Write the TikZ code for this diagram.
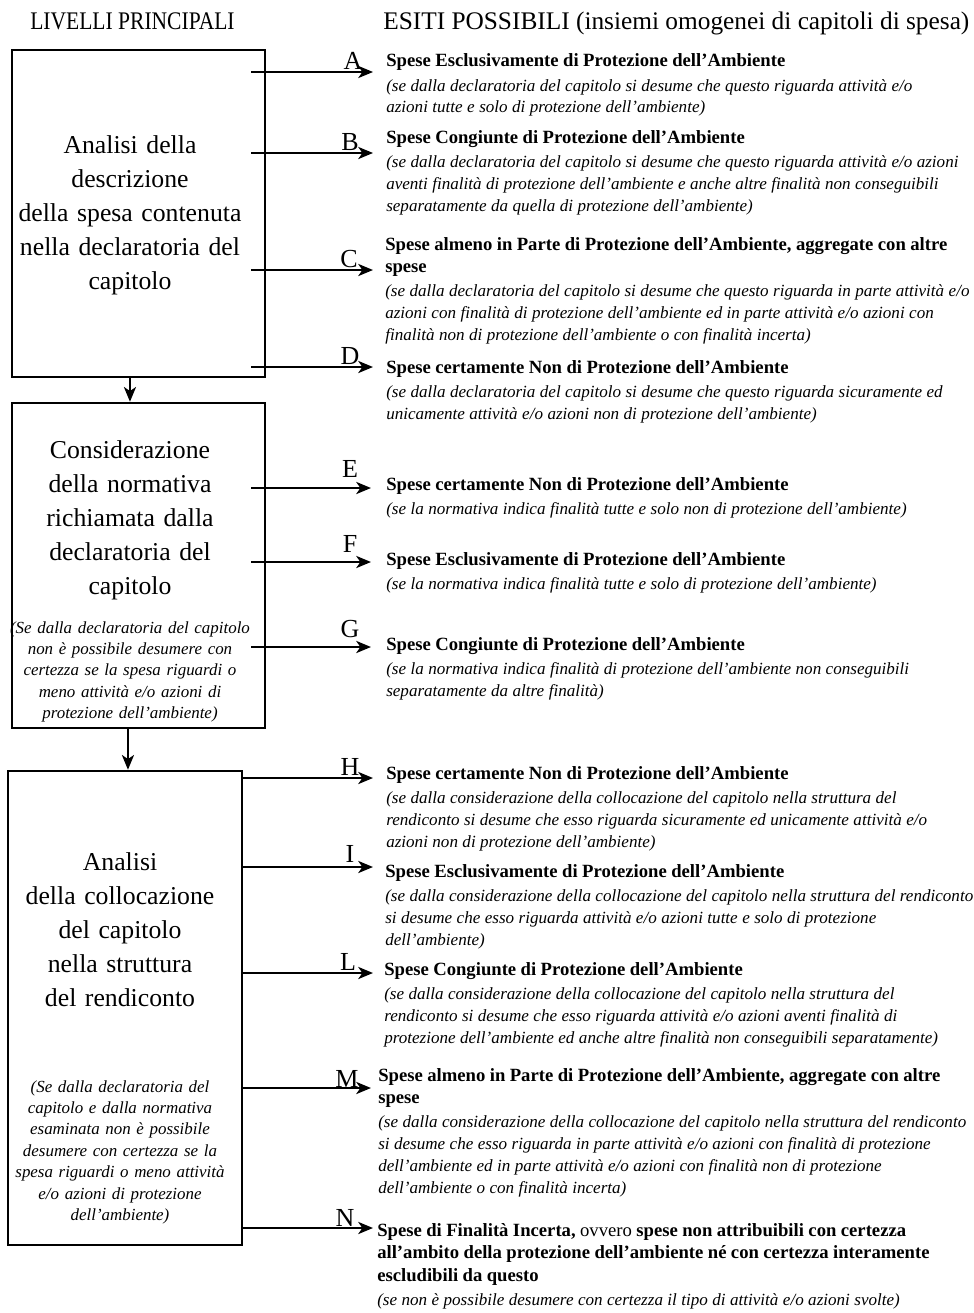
\documentclass[tikz,border=0pt]{standalone}
\usepackage{fontspec}
\setmainfont{Liberation Serif}
\usepackage{graphicx}
\usetikzlibrary{arrows.meta}

% fonts of the outcome blocks
\newcommand\hdfont{\bfseries\fontsize{14}{17}\selectfont}
\newcommand\dsfont{\mdseries\itshape\fontsize{12.8}{16.5}\selectfont}
\newcommand\dsgap{\par\vspace{1.5pt}\dsfont}

\tikzset{
  frame/.style={draw, line width=1.9pt, inner sep=0pt},
  bigtxt/.style={text width=210pt, align=center, inner sep=0pt,
    font=\fontsize{19.3}{25.5}\selectfont, anchor=base},
  boxnote/.style={text width=210pt, align=center, inner sep=0pt,
    font=\itshape\fontsize{12.7}{16.1}\selectfont, anchor=base},
  outc/.style={text width=500pt, align=left, inner sep=0pt, anchor=base west},
  lett/.style={font=\fontsize{19.5}{20}\selectfont, inner sep=0pt, anchor=south},
  arr/.style={line width=1.9pt, -{Stealth[length=11pt,width=9pt,inset=3pt]}},
  title/.style={font=\fontsize{19}{22}\selectfont, inner sep=0pt, anchor=base west},
}

\begin{document}
\begin{tikzpicture}[x=0.75pt,y=-0.75pt]
\useasboundingbox (0,0) rectangle (974,1313);

% column headings
\node[title] (hL) at (30,30) {\scalebox{0.85}[1]{LIVELLI PRINCIPALI}};
\node[title] (hR) at (383,30) {ESITI POSSIBILI (insiemi omogenei di capitoli di spesa)};

% the three levels
\node[frame, minimum width=189.75pt, minimum height=245.25pt] (b1) at (138.5,213.5) {};
\node[frame, minimum width=189.75pt, minimum height=243.75pt] (b2) at (138.5,565.5) {};
\node[frame, minimum width=175.5pt, minimum height=355.5pt] (b3) at (125,1008) {};

\node[bigtxt] (t1) at (130,153) {Analisi della\\descrizione\\della spesa contenuta\\nella declaratoria del\\capitolo};
\node[bigtxt] (t2) at (130,458) {Considerazione\\della normativa\\richiamata dalla\\declaratoria del\\capitolo};
\node[boxnote] (n2) at (130,633) {(Se dalla declaratoria del capitolo\\non è possibile desumere con\\certezza se la spesa riguardi o\\meno attività e/o azioni di\\protezione dell’ambiente)};
\node[bigtxt] (t3) at (120,870) {Analisi\\della collocazione\\del capitolo\\nella struttura\\del rendiconto};
\node[boxnote] (n3) at (120,1092) {(Se dalla declaratoria del\\capitolo e dalla normativa\\esaminata non è possibile\\desumere con certezza se la\\spesa riguardi o meno attività\\e/o azioni di protezione\\dell’ambiente)};

% level to level
\coordinate (d1) at ([xshift=-6.4pt]b1.south);
\coordinate (d2) at ([xshift=-7.9pt]b2.south);
\draw[arr] (d1) -- (d1 |- b2.north);
\draw[arr] (d2) -- (d2 |- b3.north);

% start points of the outcome arrows
\coordinate (s1) at ([xshift=-11.25pt]b1.east);
\coordinate (s2) at ([xshift=-11.25pt]b2.east);
\coordinate (s3) at (b3.east);

% arrow tips
\coordinate (eA) at (373,72);
\coordinate (eB) at (373,153);
\coordinate (eC) at (373,270);
\coordinate (eD) at (373,367);
\coordinate (eE) at (371,488);
\coordinate (eF) at (371,562);
\coordinate (eG) at (371,647);
\coordinate (eH) at (373,778);
\coordinate (eI) at (373,867);
\coordinate (eL) at (373,973);
\coordinate (eM) at (371,1088);
\coordinate (eN) at (373,1228);

\foreach \s/\e in {s1/eA,s1/eB,s1/eC,s1/eD,s2/eE,s2/eF,s2/eG,s3/eH,s3/eI,s3/eL,s3/eM,s3/eN}
  \draw[arr] (\s |- \e) -- (\e);

% outcome letters
\node[lett] (lA) at (353,70) {A};
\node[lett] (lB) at (350,151) {B};
\node[lett] (lC) at (349,268) {C};
\node[lett] (lD) at (350,365) {D};
\node[lett] (lE) at (350,478) {E};
\node[lett] (lF) at (350,553) {F};
\node[lett] (lG) at (350,638) {G};
\node[lett] (lH) at (350,776) {H};
\node[lett] (lI) at (350,863) {I};
\node[lett] (lL) at (348,971) {L};
\node[lett] (lM) at (347,1088) {M};
\node[lett] (lN) at (345,1227) {N};

% outcomes
\node[outc] (oA) at (386,67) {\hdfont Spese Esclusivamente di Protezione dell’Ambiente\dsgap
(se dalla declaratoria del capitolo si desume che questo riguarda attività e/o\\
azioni tutte e solo di protezione dell’ambiente)\par};

\node[outc] (oB) at (386,143) {\hdfont Spese Congiunte di Protezione dell’Ambiente\dsgap
(se dalla declaratoria del capitolo si desume che questo riguarda attività e/o azioni\\
aventi finalità di protezione dell’ambiente e anche altre finalità non conseguibili\\
separatamente da quella di protezione dell’ambiente)\par};

\node[outc] (oC) at (385,250) {\hdfont Spese almeno in Parte di Protezione dell’Ambiente, aggregate con altre\\spese\dsgap
(se dalla declaratoria del capitolo si desume che questo riguarda in parte attività e/o\\
azioni con finalità di protezione dell’ambiente ed in parte attività e/o azioni con\\
finalità non di protezione dell’ambiente o con finalità incerta)\par};

\node[outc] (oD) at (386,373) {\hdfont Spese certamente Non di Protezione dell’Ambiente\dsgap
(se dalla declaratoria del capitolo si desume che questo riguarda sicuramente ed\\
unicamente attività e/o azioni non di protezione dell’ambiente)\par};

\node[outc] (oE) at (386,490) {\hdfont Spese certamente Non di Protezione dell’Ambiente\dsgap
(se la normativa indica finalità tutte e solo non di protezione dell’ambiente)\par};

\node[outc] (oF) at (386,565) {\hdfont Spese Esclusivamente di Protezione dell’Ambiente\dsgap
(se la normativa indica finalità tutte e solo di protezione dell’ambiente)\par};

\node[outc] (oG) at (386,650) {\hdfont Spese Congiunte di Protezione dell’Ambiente\dsgap
(se la normativa indica finalità di protezione dell’ambiente non conseguibili\\
separatamente da altre finalità)\par};

\node[outc] (oH) at (386,779) {\hdfont Spese certamente Non di Protezione dell’Ambiente\dsgap
(se dalla considerazione della collocazione del capitolo nella struttura del\\
rendiconto si desume che esso riguarda sicuramente ed unicamente attività e/o\\
azioni non di protezione dell’ambiente)\par};

\node[outc] (oI) at (385,877) {\hdfont Spese Esclusivamente di Protezione dell’Ambiente\dsgap
(se dalla considerazione della collocazione del capitolo nella struttura del rendiconto\\
si desume che esso riguarda attività e/o azioni tutte e solo di protezione\\
dell’ambiente)\par};

\node[outc] (oL) at (384,975) {\hdfont Spese Congiunte di Protezione dell’Ambiente\dsgap
(se dalla considerazione della collocazione del capitolo nella struttura del\\
rendiconto si desume che esso riguarda attività e/o azioni aventi finalità di\\
protezione dell’ambiente ed anche altre finalità non conseguibili separatamente)\par};

\node[outc] (oM) at (378,1081) {\hdfont Spese almeno in Parte di Protezione dell’Ambiente, aggregate con altre\\spese\dsgap
(se dalla considerazione della collocazione del capitolo nella struttura del rendiconto\\
si desume che esso riguarda in parte attività e/o azioni con finalità di protezione\\
dell’ambiente ed in parte attività e/o azioni con finalità non di protezione\\
dell’ambiente o con finalità incerta)\par};

\node[outc] (oN) at (377,1236) {\hdfont Spese di Finalità Incerta, {\mdseries ovvero} spese non attribuibili con certezza\\
all’ambito della protezione dell’ambiente né con certezza interamente\\
escludibili da questo\dsgap
(se non è possibile desumere con certezza il tipo di attività e/o azioni svolte)\par};

\end{tikzpicture}
\end{document}
